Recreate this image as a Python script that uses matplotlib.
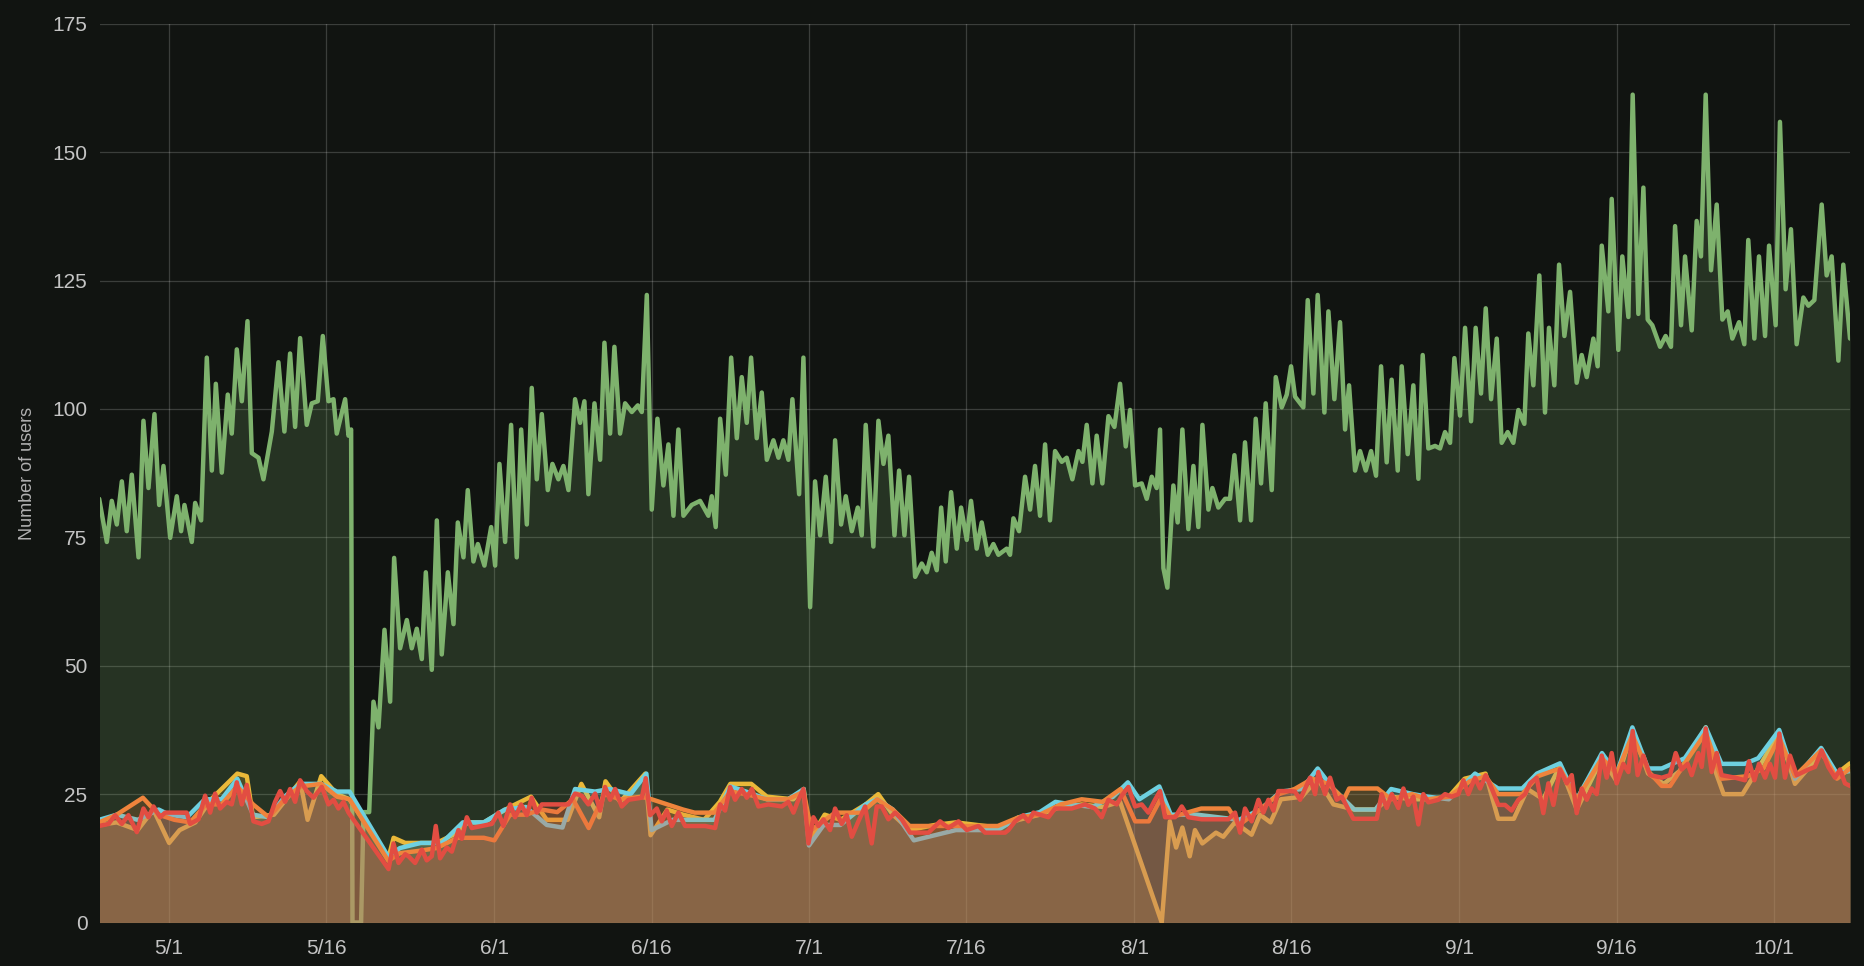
import matplotlib
matplotlib.use("Agg")
from matplotlib import pyplot as plt
import pandas as pd

# Data (days after 5/1, number of users)
start = pd.Timestamp("2018-05-01")

green_days = [
    -6.67, -5.94, -5.47, -4.99, -4.51, -4.04, -3.56, -2.92, -2.45, -1.97,
    -1.40, -0.95, -0.54, 0.10, 0.73, 1.14, 1.46, 2.16, 2.48, 3.05,
    3.59, 4.07, 4.45, 5.02, 5.59, 5.97, 6.45, 6.93, 7.47, 7.88,
    8.52, 8.99, 9.79, 10.42, 10.99, 11.53, 12.01, 12.49, 13.12, 13.60,
    14.17, 14.65, 15.19, 15.67, 15.98, 16.78, 17.10, 17.35, 17.48, 18.30,
    18.53, 19.07, 19.48, 19.96, 20.53, 21.07, 21.45, 22.02, 22.66, 23.13,
    23.61, 24.09, 24.47, 25.04, 25.52, 25.99, 26.57, 27.11, 27.52, 28.06,
    28.47, 29.01, 29.43, 30.06, 30.70, 31.08, 31.49, 32.03, 32.60, 33.14,
    33.56, 34.10, 34.57, 35.05, 35.53, 36.10, 36.54, 37.11, 37.59, 38.07,
    38.70, 39.18, 39.59, 39.97, 40.55, 41.09, 41.50, 42.04, 42.45, 42.99,
    43.47, 44.11, 44.68, 45.06, 45.54, 46.01, 46.55, 47.12, 47.60, 48.08,
    48.55, 49.03, 49.82, 50.62, 51.41, 51.73, 52.11, 52.53, 53.07, 53.58,
    54.12, 54.59, 55.07, 55.48, 56.02, 56.50, 56.98, 57.61, 58.09, 58.56,
    59.04, 59.42, 60.06, 60.47, 61.11, 61.58, 62.06, 62.60, 63.11, 63.49,
    64.06, 64.51, 65.08, 65.65, 66.03, 66.41, 67.14, 67.62, 68.10, 68.57,
    69.15, 69.59, 70.10, 70.54, 71.12, 71.75, 72.23, 72.70, 73.18, 73.60,
    74.04, 74.55, 75.09, 75.50, 76.04, 76.45, 76.99, 77.47, 78.04, 78.58,
    79.06, 79.85, 80.17, 80.49, 81.03, 81.60, 82.08, 82.55, 83.03, 83.51,
    83.98, 84.46, 85.10, 85.57, 86.11, 86.69, 87.07, 87.48, 88.02, 88.43,
    88.97, 89.55, 90.12, 90.66, 91.20, 91.61, 92.09, 92.72, 93.20, 93.68,
    94.15, 94.47, 94.79, 95.17, 95.74, 96.15, 96.60, 97.17, 97.65, 98.12,
    98.51, 99.08, 99.46, 100.03, 100.67, 101.14, 101.56, 102.10, 102.57, 103.15,
    103.59, 104.10, 104.54, 105.12, 105.50, 106.07, 106.55, 106.96, 107.34, 108.13,
    108.55, 109.09, 109.50, 110.14, 110.52, 111.09, 111.63, 112.11, 112.49, 113.06,
    113.54, 114.08, 114.59, 115.06, 115.54, 116.08, 116.55, 117.13, 117.51, 118.08,
    118.62, 119.10, 119.51, 120.05, 120.69, 121.16, 121.64, 122.12, 122.53, 123.07,
    123.55, 124.12, 124.56, 125.07, 125.52, 126.03, 126.57, 127.04, 127.61, 128.15,
    128.63, 129.20, 129.58, 130.06, 130.63, 131.17, 131.55, 132.06, 132.51, 133.02,
    133.56, 134.19, 134.67, 135.15, 135.78, 136.19, 136.58, 137.21, 137.53, 138.16,
    138.54, 139.12, 139.53, 140.07, 140.55, 140.96, 141.40, 142.14, 142.67, 143.18,
    143.57, 144.14, 144.52, 145.16, 145.63, 146.04, 146.49, 147.00, 147.54, 148.08,
    148.59, 149.03, 149.67, 150.17, 150.55, 151.13, 151.57, 152.15, 152.53, 153.16,
    153.57, 154.11, 154.62, 155.16, 155.80, 156.28, 156.85, 157.55, 158.02, 158.50,
    159.14, 159.61, 160.25,
]
green_vals = [
    82.5, 74.1, 82.1, 77.5, 85.9, 76.2, 87.2, 71.1, 97.7, 84.6,
    99.0, 81.3, 88.9, 74.9, 83.0, 76.2, 81.3, 74.1, 81.7, 78.3,
    110.0, 88.0, 104.9, 87.6, 102.8, 95.2, 111.6, 101.5, 117.1, 91.4,
    90.5, 86.3, 95.6, 109.1, 95.6, 110.8, 96.5, 113.8, 96.9, 101.1,
    101.5, 114.2, 101.5, 101.9, 95.2, 101.9, 94.8, 96.0, 0.0, 0.0,
    21.5, 21.5, 43.0, 38.0, 57.0, 43.0, 71.0, 53.4, 58.9, 53.4,
    57.2, 51.3, 68.2, 49.2, 78.3, 52.2, 68.2, 58.1, 77.9, 71.1,
    84.2, 70.3, 73.7, 69.5, 77.0, 69.5, 89.3, 74.1, 96.9, 71.1,
    96.0, 77.5, 104.1, 86.3, 99.0, 84.2, 89.3, 86.3, 88.9, 84.2,
    101.9, 97.3, 101.5, 83.4, 101.1, 90.1, 112.9, 95.2, 112.1, 95.2,
    101.1, 99.4, 100.7, 99.4, 122.2, 80.4, 98.1, 85.1, 93.1, 79.2,
    96.0, 79.2, 81.3, 82.1, 79.2, 83.0, 77.0, 98.1, 87.2, 110.0,
    94.3, 106.2, 97.3, 110.0, 94.3, 103.2, 90.1, 93.9, 90.5, 93.9,
    90.1, 101.9, 83.4, 110.0, 61.4, 85.9, 75.4, 86.8, 74.1, 93.9,
    77.5, 83.0, 76.2, 80.8, 75.4, 96.9, 73.2, 97.7, 89.3, 94.8,
    75.4, 88.0, 75.4, 86.8, 67.3, 69.9, 68.2, 72.0, 68.6, 80.8,
    70.3, 83.8, 72.8, 80.8, 74.5, 82.1, 72.8, 77.9, 71.6, 73.7,
    71.6, 72.8, 71.6, 78.7, 76.2, 86.8, 80.4, 88.9, 79.2, 93.1,
    78.3, 91.8, 89.7, 90.5, 86.3, 91.8, 89.7, 96.9, 85.5, 94.8,
    85.5, 98.6, 96.5, 104.9, 92.7, 99.8, 85.1, 85.5, 82.5, 86.8,
    84.6, 96.0, 69.0, 65.2, 85.1, 77.9, 96.0, 76.6, 88.9, 77.0,
    96.9, 80.4, 84.6, 80.8, 82.5, 82.5, 91.0, 78.3, 93.5, 78.3,
    98.1, 85.5, 101.1, 84.2, 106.2, 100.3, 102.8, 108.3, 102.4, 100.3,
    121.2, 103.0, 122.2, 99.3, 119.0, 101.9, 116.9, 96.0, 104.6, 88.0,
    91.8, 88.0, 91.8, 87.0, 108.3, 89.6, 105.7, 88.0, 108.3, 91.2,
    104.6, 86.4, 110.5, 92.3, 92.8, 92.3, 95.5, 93.4, 109.9, 98.7,
    115.8, 97.6, 115.8, 103.0, 119.6, 101.9, 113.7, 93.4, 95.5, 93.4,
    99.8, 97.1, 114.7, 104.6, 126.0, 99.3, 115.8, 104.6, 128.1, 114.2,
    122.8, 105.1, 110.5, 106.2, 113.7, 108.3, 131.8, 119.0, 140.9, 111.5,
    129.7, 117.9, 161.2, 118.5, 143.1, 117.4, 116.3, 112.1, 114.2, 112.1,
    135.6, 116.3, 129.7, 115.3, 136.6, 129.7, 161.2, 127.0, 139.8, 117.4,
    119.0, 113.7, 116.9, 112.6, 132.9, 113.7, 129.7, 114.2, 131.8, 116.3,
    155.9, 123.3, 135.0, 112.6, 121.7, 120.1, 121.2, 139.8, 126.0, 129.7,
    109.4, 128.1, 113.7,
]

yellow_days = [
    -6.67, -5.0, -3.0, -1.5, 0.0, 1.0, 2.5, 4.0, 6.5, 7.4,
    8.0, 10.0, 12.5, 13.2, 14.5, 16.0, 17.2, 20.9, 21.4, 22.5,
    24.0, 25.5, 27.0, 28.5, 30.0, 32.5, 34.5, 36.0, 38.0, 39.3,
    41.0, 41.6, 43.0, 45.4, 45.9, 47.5, 49.0, 51.0, 52.5, 53.5,
    55.5, 57.0, 59.5, 60.5, 61.0, 62.5, 64.0, 66.4, 67.6, 69.0,
    70.6, 73.0, 75.0, 77.0, 79.0, 81.0, 83.0, 85.0, 87.0, 89.0,
    90.66, 94.63, 95.4, 96.0, 96.6, 97.3, 97.8, 98.5, 99.8, 100.5,
    101.6, 103.2, 104.0, 105.0, 106.0, 108.0, 109.5, 111.0, 113.0, 115.0,
    116.5, 118.5, 120.0, 122.0, 123.5, 125.5, 126.7, 128.2, 129.5, 131.0,
    132.6, 134.2, 136.6, 138.0, 139.5, 141.0, 142.5, 144.0, 146.5, 147.5,
    148.2, 150.0, 151.5, 153.5, 155.0, 157.5, 159.0, 160.25,
]
yellow_vals = [
    19.0, 19.5, 18.0, 22.0, 15.5, 18.0, 19.5, 24.0, 29.0, 28.5,
    20.5, 21.0, 27.5, 20.0, 28.5, 25.0, 24.0, 12.5, 16.5, 15.5,
    15.5, 15.5, 17.0, 19.5, 19.5, 22.5, 24.5, 20.0, 20.0, 27.0,
    20.5, 27.5, 23.5, 29.0, 17.0, 22.0, 21.0, 20.0, 23.5, 27.0,
    27.0, 24.5, 24.0, 26.0, 16.0, 21.0, 20.0, 23.0, 25.0, 21.0,
    18.0, 19.0, 19.5, 19.0, 18.5, 20.0, 21.0, 22.5, 23.0, 22.5,
    23.5, 0.0, 19.7, 14.6, 18.5, 12.9, 18.0, 15.4, 17.5, 16.7,
    19.5, 17.1, 21.0, 19.5, 24.0, 24.5, 28.0, 23.0, 22.0, 22.0,
    24.5, 24.0, 24.0, 24.5, 28.0, 29.0, 20.2, 20.2, 26.0, 24.0,
    30.5, 22.0, 32.0, 27.5, 37.5, 29.0, 27.0, 29.5, 38.0, 29.0,
    25.0, 25.0, 30.0, 37.0, 27.0, 33.0, 29.0, 31.0,
]

cyan_days = [
    -6.67, -5.0, -3.0, -1.0, 0.0, 1.7, 3.4, 5.0, 6.5, 8.0,
    9.5, 11.0, 12.5, 14.5, 16.0, 17.2, 20.9, 22.0, 24.0, 26.0,
    28.0, 30.0, 32.0, 34.0, 36.0, 37.5, 38.7, 40.6, 42.0, 44.0,
    45.5, 46.0, 48.0, 50.0, 52.0, 53.5, 55.0, 57.0, 59.0, 60.5,
    61.0, 62.4, 64.0, 66.4, 67.5, 69.0, 71.0, 73.0, 75.0, 77.0,
    79.0, 81.0, 83.0, 84.5, 86.0, 88.0, 90.0, 91.4, 92.5, 94.4,
    95.5, 98.0, 100.0, 102.0, 104.0, 106.0, 108.0, 109.5, 111.0, 113.0,
    115.0, 116.5, 118.6, 120.0, 122.0, 124.5, 126.7, 129.0, 130.4, 132.6,
    134.2, 136.6, 138.0, 139.5, 141.0, 142.3, 144.5, 146.5, 148.0, 150.2,
    151.5, 153.5, 155.0, 157.5, 159.0, 160.25,
]
cyan_vals = [
    20.0, 21.0, 20.0, 22.0, 21.0, 20.5, 24.0, 24.0, 28.0, 21.0,
    20.5, 24.5, 27.0, 27.0, 25.5, 25.5, 12.8, 14.5, 15.5, 15.5,
    19.5, 19.5, 22.0, 22.5, 19.0, 18.5, 26.0, 25.5, 26.0, 25.0,
    29.0, 18.0, 20.0, 20.0, 20.0, 26.5, 25.5, 24.0, 24.0, 26.0,
    15.0, 19.0, 19.0, 23.0, 24.0, 22.0, 16.0, 17.0, 18.0, 18.0,
    18.0, 20.5, 21.5, 23.5, 23.0, 22.5, 24.5, 27.3, 24.0, 26.5,
    21.0, 21.0, 20.5, 20.0, 22.0, 25.5, 26.0, 30.0, 26.0, 22.0,
    22.0, 26.0, 25.0, 24.5, 24.0, 29.0, 26.1, 26.1, 29.0, 31.0,
    24.0, 33.0, 29.0, 38.0, 30.0, 30.0, 32.0, 38.0, 30.9, 30.9,
    32.0, 37.5, 28.0, 34.0, 29.0, 29.5,
]

orange_days = [
    -6.67, -5.0, -2.5, -1.0, 0.5, 2.0, 3.5, 5.0, 6.5, 8.0,
    9.5, 11.0, 12.5, 14.5, 16.0, 17.2, 20.9, 22.0, 24.0, 25.5,
    27.5, 28.5, 30.0, 31.0, 32.5, 34.0, 35.5, 37.0, 38.5, 40.0,
    41.5, 43.0, 45.0, 46.0, 47.5, 49.0, 50.1, 52.0, 53.5, 55.0,
    57.0, 59.0, 60.5, 61.2, 63.5, 66.0, 67.5, 69.0, 70.6, 73.0,
    76.0, 79.0, 81.0, 83.0, 85.0, 87.0, 89.0, 90.7, 92.1, 93.4,
    94.5, 95.5, 98.4, 101.0, 102.0, 104.0, 105.8, 107.3, 109.0, 110.5,
    112.0, 112.5, 115.2, 116.5, 118.5, 120.0, 122.0, 124.0, 125.5, 126.7,
    129.0, 130.5, 132.6, 134.2, 136.6, 138.0, 139.5, 141.0, 142.3, 143.1,
    144.5, 146.5, 148.0, 150.5, 152.0, 153.5, 155.0, 157.5, 159.0, 160.25,
]
orange_vals = [
    19.5, 21.0, 24.3, 21.0, 20.0, 19.5, 23.0, 23.0, 26.5, 23.0,
    20.5, 24.0, 26.5, 27.0, 24.5, 24.0, 12.0, 13.5, 14.0, 14.5,
    16.5, 16.5, 16.5, 16.0, 21.0, 21.0, 22.0, 21.5, 24.0, 18.4,
    25.0, 24.0, 24.5, 24.0, 23.0, 22.0, 21.4, 21.4, 25.5, 25.0,
    24.0, 24.0, 25.5, 18.0, 21.4, 21.4, 24.0, 22.0, 18.8, 18.8,
    18.8, 18.8, 20.5, 21.0, 23.0, 24.0, 23.5, 26.0, 19.7, 19.7,
    24.0, 20.5, 22.2, 22.2, 19.0, 22.0, 25.0, 26.0, 28.0, 27.0,
    24.0, 26.1, 26.1, 24.0, 25.0, 24.0, 24.5, 27.5, 28.5, 25.0,
    25.0, 28.5, 30.0, 24.0, 32.0, 29.0, 36.5, 29.5, 26.6, 26.6,
    31.0, 37.0, 28.0, 28.5, 30.0, 36.0, 28.5, 33.5, 28.0, 30.0,
]

red_days = [
    -6.67, -5.78, -5.15, -4.51, -3.88, -3.08, -2.45, -1.97, -1.49, -0.86,
    -0.38, 1.68, 2.00, 2.80, 3.43, 3.91, 4.38, 4.86, 5.50, 5.97,
    6.45, 6.93, 7.40, 8.04, 8.83, 9.47, 10.10, 10.58, 11.06, 11.53,
    12.01, 12.49, 13.12, 13.76, 14.55, 15.19, 15.67, 16.14, 16.62, 17.10,
    20.92, 21.39, 21.87, 22.50, 22.82, 23.45, 24.09, 24.56, 25.04, 25.42,
    25.83, 26.47, 26.95, 27.58, 27.90, 28.38, 28.85, 29.81, 30.76, 31.39,
    31.87, 32.51, 32.98, 33.56, 34.10, 34.57, 35.05, 35.53, 36.48, 38.07,
    38.70, 39.34, 39.97, 40.61, 41.09, 41.56, 42.04, 42.52, 43.15, 43.79,
    45.06, 45.44, 45.85, 46.49, 46.97, 47.44, 47.92, 48.55, 49.19, 51.10,
    52.05, 52.53, 53.00, 53.48, 53.96, 54.59, 55.07, 55.55, 56.18, 57.13,
    58.40, 59.04, 59.52, 59.99, 60.47, 60.95, 61.42, 61.90, 62.38, 63.01,
    63.49, 64.12, 64.60, 65.08, 65.71, 66.35, 66.98, 67.46, 67.94, 68.57,
    69.21, 69.84, 70.64, 72.39, 73.50, 74.29, 75.25, 76.04, 77.15, 77.79,
    79.70, 80.01, 80.65, 81.44, 81.92, 82.40, 83.19, 83.83, 84.46, 86.05,
    87.32, 88.27, 88.91, 89.55, 90.34, 90.82, 91.45, 92.09, 92.72, 93.36,
    93.99, 94.47, 94.95, 95.90, 96.54, 97.17, 98.44, 100.98, 101.62, 102.10,
    102.57, 103.21, 103.85, 104.32, 104.80, 105.28, 105.75, 106.70, 107.34, 107.82,
    108.77, 109.25, 109.56, 110.20, 110.68, 111.31, 111.79, 112.90, 115.13, 115.60,
    116.08, 116.56, 117.19, 117.67, 118.14, 118.62, 119.10, 119.57, 120.05, 121.00,
    121.64, 122.28, 122.91, 123.39, 123.86, 124.50, 124.98, 125.52, 126.09, 126.72,
    127.36, 127.99, 128.63, 129.27, 129.74, 130.38, 131.01, 131.49, 131.97, 132.60,
    133.24, 133.72, 134.19, 134.67, 135.15, 135.62, 136.10, 136.58, 137.05, 137.53,
    138.00, 138.64, 139.12, 139.53, 140.00, 140.55, 141.18, 142.30, 143.09, 143.63,
    144.20, 144.77, 145.16, 145.79, 146.11, 146.49, 147.06, 147.54, 148.01, 149.29,
    150.24, 150.62, 151.13, 151.57, 152.15, 152.62, 153.10, 153.51, 154.05, 154.53,
    155.17, 156.28, 156.91, 157.55, 158.18, 158.82, 159.30, 159.77, 160.25,
]
red_vals = [
    18.8, 19.2, 20.9, 19.2, 20.9, 17.6, 22.2, 20.5, 22.6, 20.5,
    21.4, 21.4, 19.2, 20.1, 24.7, 21.4, 25.1, 22.2, 23.5, 23.0,
    27.3, 23.0, 26.8, 19.7, 19.2, 19.7, 23.5, 25.6, 23.5, 26.0,
    23.5, 27.7, 25.6, 24.3, 26.4, 23.0, 23.9, 22.2, 23.5, 21.4,
    10.4, 15.4, 11.6, 13.3, 12.9, 11.6, 14.2, 12.1, 12.9, 18.8,
    12.5, 14.6, 13.8, 18.0, 16.3, 20.5, 18.4, 18.8, 19.2, 21.4,
    18.8, 23.0, 20.5, 23.0, 20.9, 24.3, 21.4, 23.0, 23.0, 23.0,
    25.1, 24.7, 23.0, 25.1, 21.8, 26.4, 23.9, 26.0, 22.6, 23.9,
    24.3, 28.1, 20.9, 22.2, 19.7, 21.8, 18.8, 21.4, 18.8, 18.8,
    18.4, 23.0, 21.8, 26.4, 23.9, 26.0, 24.3, 26.0, 22.6, 23.0,
    22.6, 23.5, 21.4, 23.9, 26.0, 15.4, 20.5, 18.8, 20.1, 18.0,
    22.2, 19.2, 20.9, 16.7, 19.7, 22.6, 15.4, 22.6, 22.6, 20.1,
    21.4, 20.1, 17.5, 17.5, 19.7, 18.4, 19.7, 18.0, 18.8, 17.5,
    17.5, 18.0, 19.7, 20.9, 19.7, 21.4, 20.9, 20.5, 22.2, 22.2,
    23.0, 22.2, 20.5, 23.9, 23.0, 24.7, 26.4, 22.6, 23.0, 21.4,
    23.9, 25.6, 20.5, 20.5, 22.6, 20.5, 20.1, 20.1, 21.4, 17.5,
    22.2, 19.7, 23.9, 21.4, 23.9, 21.8, 25.6, 25.6, 25.5, 23.9,
    28.2, 25.0, 29.3, 25.0, 28.2, 23.9, 24.5, 20.2, 20.2, 25.0,
    22.3, 25.0, 22.3, 26.1, 22.9, 24.5, 19.1, 25.0, 23.4, 23.9,
    25.0, 24.5, 25.0, 27.7, 25.0, 28.2, 26.1, 28.7, 26.1, 22.9,
    22.9, 21.8, 23.9, 25.0, 27.1, 28.2, 21.3, 27.1, 22.9, 29.8,
    27.1, 28.7, 21.3, 26.1, 23.9, 26.1, 25.0, 32.5, 28.2, 33.0,
    27.1, 30.9, 29.3, 37.3, 28.7, 32.5, 28.7, 28.2, 28.7, 33.0,
    29.8, 30.9, 28.7, 33.0, 30.3, 37.8, 29.3, 33.0, 28.7, 28.2,
    27.7, 31.4, 27.7, 30.9, 28.2, 30.9, 28.2, 36.8, 28.2, 32.5,
    28.7, 29.8, 30.3, 33.5, 30.3, 28.2, 29.8, 27.1, 26.6,
]

tick_dates = ["2018-05-01", "2018-05-16", "2018-06-01", "2018-06-16",
              "2018-07-01", "2018-07-16", "2018-08-01", "2018-08-16",
              "2018-09-01", "2018-09-16", "2018-10-01"]
tick_labels = ["5/1", "5/16", "6/1", "6/16", "7/1", "7/16",
               "8/1", "8/16", "9/1", "9/16", "10/1"]
y_ticks = [0, 25, 50, 75, 100, 125, 150, 175]


def to_time(days):
    return start + pd.to_timedelta(days, unit="D")


# Style
bg = "#111411"
plt.rcParams["font.family"] = ["Liberation Sans", "DejaVu Sans"]

fig = plt.figure(figsize=(18.64, 9.66), dpi=100, facecolor=bg)
ax = fig.add_axes([0.0536, 0.045, 0.9389, 0.9304])
ax.set_facecolor(bg)

series = [
    (green_days, green_vals, "#7EB26D"),
    (yellow_days, yellow_vals, "#EAB839"),
    (cyan_days, cyan_vals, "#6ED0E0"),
    (orange_days, orange_vals, "#EF843C"),
    (red_days, red_vals, "#E24D42"),
]

# each series: fill then line, so later fills tint earlier lines
for i, (days, vals, color) in enumerate(series):
    t = to_time(days)
    ax.fill_between(t, vals, 0, color=color, alpha=0.2, linewidth=0,
                    zorder=3 + 2 * i)
    ax.plot(t, vals, color=color, linewidth=3.2, solid_joinstyle="round",
            solid_capstyle="round", zorder=4 + 2 * i)

# Formating
ax.set_xlim(to_time(-6.6), to_time(160.25))
ax.set_ylim(0, 175)
ax.set_xticks(pd.to_datetime(tick_dates))
ax.set_xticklabels(tick_labels)
ax.set_yticks(y_ticks)

ax.set_axisbelow(True)
ax.grid(True, color="white", alpha=0.18, linewidth=0.9)
for spine in ax.spines.values():
    spine.set_visible(False)

ax.tick_params(axis="both", length=0, colors="#c4c4c4", labelsize=15)
ax.tick_params(axis="x", pad=12)
ax.tick_params(axis="y", pad=9)
ax.set_ylabel("Number of users", color="#b0b0b0", fontsize=13, labelpad=12)

fig.savefig("out.png", dpi=100, facecolor=bg)
